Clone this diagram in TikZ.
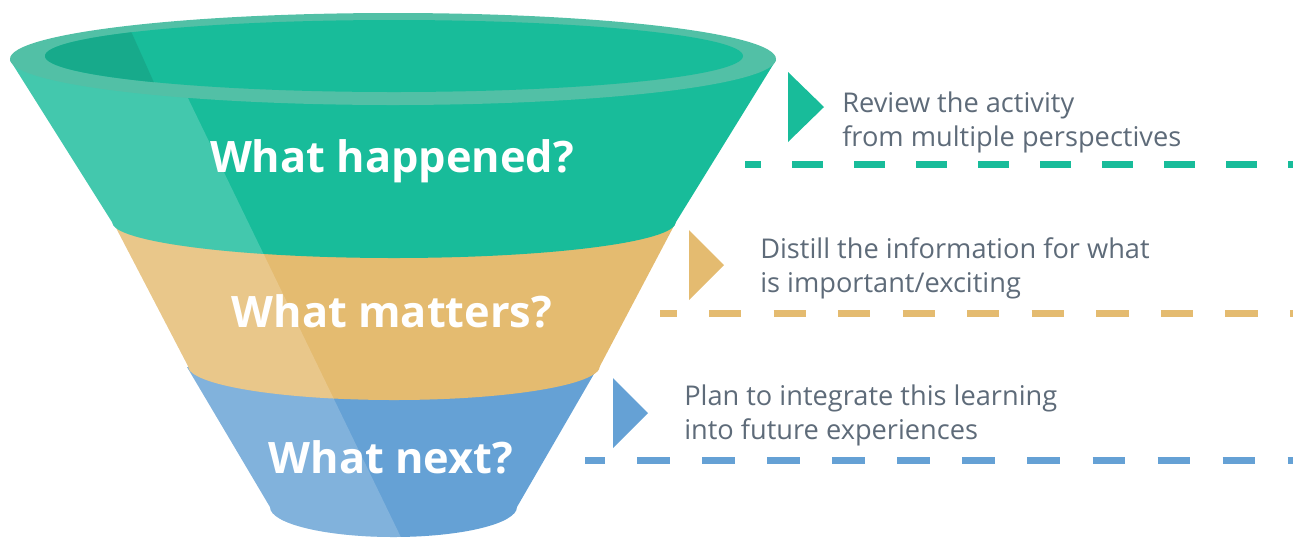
\documentclass[tikz,border=0pt]{standalone}
\usepackage{fontspec}
\setmainfont{Open Sans}
\definecolor{tealband}{HTML}{18BC9A}
\definecolor{tealrim}{HTML}{52C0A6}
\definecolor{tealdeep}{HTML}{17AA8B}
\definecolor{orangeband}{HTML}{E4BB70}
\definecolor{blueband}{HTML}{65A1D5}
\definecolor{notegrey}{HTML}{5E6B79}
\tikzset{
  question/.style={text=white, font=\bfseries\fontsize{32.5}{38}\selectfont, inner sep=0pt},
  note/.style={text=notegrey, font=\fontsize{20.4}{24}\selectfont, anchor=base west, inner sep=0pt},
  marker/.style={fill=#1},
  guide/.style={draw=#1, line width=5.25pt},
  sheen/.style={fill=white, fill opacity=0.19}
}
\begin{document}
\begin{tikzpicture}[x=0.75pt, y=-0.75pt]
\useasboundingbox (0,0) rectangle (1293,537);

% light strip running diagonally across the funnel
\def\sheenpath{(0,0) -- (140.4,0) -- (400.8,537) -- (0,537) -- cycle}

% bottom band
\fill[blueband] (187,367) -- (598,367) -- (517,507)
  arc[start angle=0, end angle=180, x radius=123.5, y radius=30] -- cycle;
\begin{scope}
  \clip (187,367) -- (598,367) -- (517,507)
    arc[start angle=0, end angle=180, x radius=123.5, y radius=30] -- cycle;
  \fill[sheen] \sheenpath;
\end{scope}

% middle band
\fill[orangeband] (113,222) -- (676,222) -- (600,366)
  arc[start angle=0, end angle=180, x radius=206, y radius=34] -- cycle;
\begin{scope}
  \clip (113,222) -- (676,222) -- (600,366)
    arc[start angle=0, end angle=180, x radius=206, y radius=34] -- cycle;
  \fill[sheen] \sheenpath;
\end{scope}

% top band
\fill[tealband] (10,60) -- (776,60) -- (676,222)
  arc[start angle=0, end angle=180, x radius=282, y radius=36] -- cycle;
\begin{scope}
  \clip (10,60) -- (776,60) -- (676,222)
    arc[start angle=0, end angle=180, x radius=282, y radius=36] -- cycle;
  \fill[sheen] \sheenpath;
\end{scope}

% rim and opening
\fill[tealrim] (393,59) ellipse[x radius=383, y radius=46];
\fill[tealband] (394,56) ellipse[x radius=349, y radius=36];
\begin{scope}
  \clip (394,56) ellipse[x radius=349, y radius=36];
  \fill[tealdeep] (0,0) -- (117,0) -- (160,96) -- (0,96) -- cycle;
\end{scope}

% questions
\node[question] (q1) at (392,161) {What happened?};
\node[question] (q2) at (392,311) {What matters?};
\node[question] (q3) at (391,457) {What next?};

% pointers
\fill[marker=tealband] (788,72) -- (788,142) -- (824,107) -- cycle;
\fill[marker=orangeband] (689,230) -- (689,300) -- (724,265) -- cycle;
\fill[marker=blueband] (613,378) -- (613,448) -- (648,413) -- cycle;

% notes
\node[note] (n1a) at (842,112) {Review the activity};
\node[note] (n1b) at (842,146) {from multiple perspectives};
\node[note] (n2a) at (760,258) {Distill the information for what};
\node[note] (n2b) at (760,292) {is important/exciting};
\node[note] (n3a) at (684,405) {Plan to integrate this learning};
\node[note] (n3b) at (684,439) {into future experiences};

% dashed guides
\coordinate (g1s) at (745,164); \coordinate (g1e) at (1293,164);
\coordinate (g2s) at (660,313); \coordinate (g2e) at (1293,313);
\coordinate (g3s) at (585,460); \coordinate (g3e) at (1293,460);
\draw[guide=tealband, dash pattern=on 23.25pt off 23.25pt, dash phase=11.25pt] (g1s) -- (g1e);
\draw[guide=orangeband, dash pattern=on 24.2pt off 24.2pt, dash phase=11.6pt] (g2s) -- (g2e);
\draw[guide=blueband, dash pattern=on 24.4pt off 24.4pt, dash phase=9.75pt] (g3s) -- (g3e);
\end{tikzpicture}
\end{document}
